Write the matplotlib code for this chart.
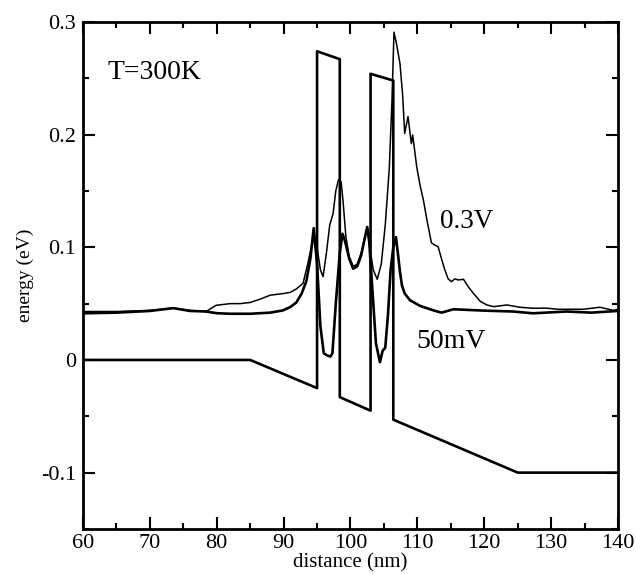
import numpy as np
import matplotlib
matplotlib.use("Agg")
import matplotlib.pyplot as plt
from matplotlib.ticker import MultipleLocator

plt.rcParams['font.family'] = ['Liberation Serif', 'DejaVu Serif']

# conduction band profile (eV) vs distance (nm)
pot_x = [60, 85, 95.0, 95.0, 98.4, 98.4, 103.0, 103.0, 106.4, 106.4, 125, 140]
pot_y = [0, 0, -0.025, 0.274, 0.267, -0.033, -0.045, 0.254, 0.248, -0.053, -0.1, -0.1]

# mean electron energy, 50 mV bias (thick)
e50_x = [60, 65, 70, 73.5, 76, 78.4, 80, 82, 85, 88, 89.9, 91, 91.9, 92.7, 93.4, 94.0, 94.5,
         95.0, 95.5, 96.0, 96.5, 97.0, 97.3, 97.8, 98.4, 98.8, 99.2, 99.8, 100.4, 101.0,
         101.6, 102.2, 102.5, 102.8, 103.3, 103.8, 104.4, 104.8, 105.2, 105.6, 106.0,
         106.4, 106.8, 107.1, 107.4, 107.7, 108.1, 108.9, 110.4, 112.4, 113.6, 115.4, 119.9,
         124.3, 127.3, 132.3, 136, 140]
e50_y = [0.0414, 0.042, 0.0435, 0.046, 0.0435, 0.043, 0.0415, 0.041, 0.041, 0.042, 0.044,
         0.047, 0.051, 0.059, 0.07, 0.09, 0.117,
         0.085, 0.03, 0.006, 0.004, 0.003, 0.006, 0.05, 0.095, 0.112, 0.105, 0.09, 0.081,
         0.083, 0.093, 0.11, 0.118, 0.105, 0.06, 0.015, -0.002, 0.008, 0.011, 0.04, 0.08,
         0.1, 0.109, 0.094, 0.078, 0.066, 0.059, 0.053, 0.048, 0.044, 0.042, 0.045, 0.0438,
         0.043, 0.0414, 0.043, 0.042, 0.0435]

# mean electron energy, 0.3 V bias (thin)
e3_x = [60, 65, 70, 73.5, 76, 78.4, 79.9, 82, 83.5, 85, 86.5, 88, 90, 91, 91.9, 92.9, 93.6,
        94.2, 94.6, 95.0, 95.5, 95.9, 96.4, 96.9, 97.4, 97.8, 98.2, 98.6, 98.9, 99.3, 99.8,
        100.4, 101.0, 101.6, 102.2, 102.5, 102.9, 103.4, 104.0, 104.6, 105.2, 105.8, 106.2,
        106.5, 106.9, 107.4, 107.8, 108.1, 108.6, 109.1, 109.3, 109.9, 110.4, 110.9, 111.5,
        112.1, 112.6, 113.1, 113.6, 114.1, 114.6, 115.1, 115.6, 116.1, 116.9, 117.6, 118.4,
        119.4, 120.4, 121.4, 122.3, 123.4, 125.3, 127.3, 129.3, 131, 134.8, 137.3, 139.3, 140]
e3_y = [0.043, 0.043, 0.044, 0.046, 0.044, 0.043, 0.0485, 0.050, 0.050, 0.051, 0.054, 0.0575,
        0.059, 0.060, 0.063, 0.068, 0.085, 0.102, 0.108, 0.1, 0.08, 0.074, 0.095, 0.12, 0.13,
        0.15, 0.16, 0.158, 0.14, 0.11, 0.092, 0.083, 0.085, 0.095, 0.11, 0.117, 0.1, 0.08,
        0.0716, 0.085, 0.12, 0.17, 0.23, 0.291, 0.28, 0.263, 0.235, 0.201, 0.216, 0.192,
        0.1997, 0.1715, 0.155, 0.142, 0.122, 0.104, 0.102, 0.1005, 0.09, 0.080, 0.072,
        0.0695, 0.072, 0.071, 0.0716, 0.065, 0.059, 0.052, 0.0488, 0.0473, 0.048, 0.0488,
        0.0468, 0.0459, 0.046, 0.045, 0.045, 0.0468, 0.044, 0.045]

fig = plt.figure(figsize=(6.36, 5.74), dpi=100)
ax = fig.add_axes([0.1305, 0.0785, 0.8412, 0.8832])

ax.plot(pot_x, pot_y, color='black', lw=1.9)
ax.plot(e50_x, e50_y, color='black', lw=1.9)
ax.plot(e3_x, e3_y, color='black', lw=1.1)

ax.set_xlim(60, 140)
ax.set_ylim(-0.15, 0.3)
ax.xaxis.set_major_locator(MultipleLocator(10))
ax.xaxis.set_minor_locator(MultipleLocator(5))
ax.yaxis.set_minor_locator(MultipleLocator(0.05))
ax.set_yticks([-0.1, 0, 0.1, 0.2, 0.3])
ax.set_yticklabels(['-0.1', '0', '0.1', '0.2', '0.3'])

ax.tick_params(which='both', direction='in', top=True, right=True, labelsize=16, width=1.5)
ax.tick_params(which='major', length=8.5, pad=5)
ax.tick_params(axis='x', which='major', pad=4)
ax.tick_params(which='minor', length=4.3)
for s in ax.spines.values():
    s.set_linewidth(2.0)

ax.set_xlabel('distance (nm)', fontsize=15, labelpad=0)
ax.set_ylabel('energy (eV)', fontsize=14, labelpad=5)

ax.text(63.6, 0.2555, 'T=300K', fontsize=20, va='center', ha='left')
ax.text(113.4, 0.1226, '0.3V', fontsize=19.5, va='center', ha='left')
ax.text(109.9, 0.016, '50mV', fontsize=20, va='center', ha='left')

fig.savefig('out.png', dpi=100)
